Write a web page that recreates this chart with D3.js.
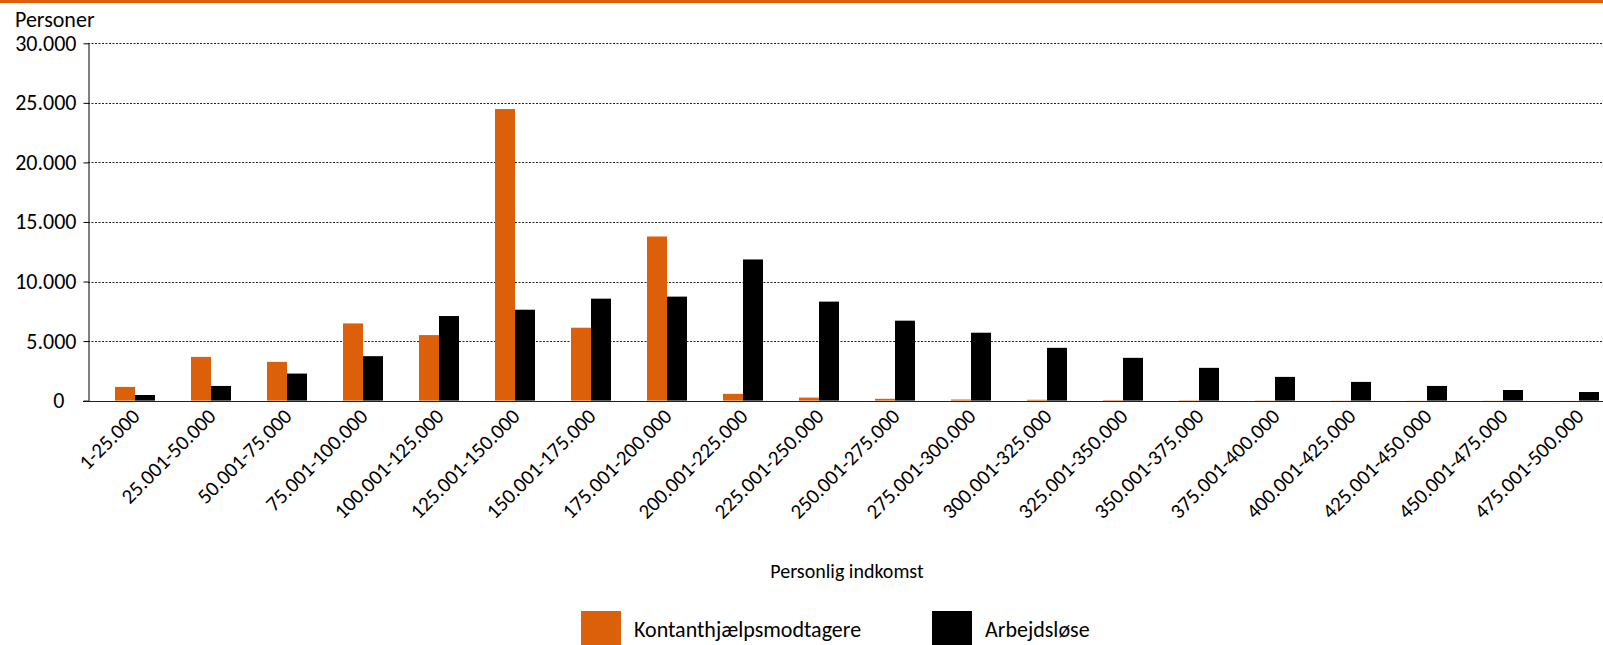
<!DOCTYPE html>
<html>
<head>
<meta charset="utf-8">
<script src="https://cdn.jsdelivr.net/npm/d3@7"></script>
<style>
  html, body { margin: 0; padding: 0; background: #fff; }
  svg { display: block; }
  text { font-family: Carlito, Calibri, Lato, "Noto Sans", sans-serif; fill: #000; }
</style>
</head>
<body>
<svg id="chart" width="1603" height="645"></svg>
<script>
// Income brackets (DKK) on the x axis
const categories = [
  "1-25.000", "25.001-50.000", "50.001-75.000", "75.001-100.000",
  "100.001-125.000", "125.001-150.000", "150.001-175.000", "175.001-200.000",
  "200.001-225.000", "225.001-250.000", "250.001-275.000", "275.001-300.000",
  "300.001-325.000", "325.001-350.000", "350.001-375.000", "375.001-400.000",
  "400.001-425.000", "425.001-450.000", "450.001-475.000", "475.001-500.000"
];

// Number of persons per bracket
const kontanthjaelp = [
  1150, 3670, 3250, 6480, 5500, 24480, 6120, 13780, 570, 250,
  150, 90, 70, 40, 30, 20, 15, 10, 10, 5
];
const arbejdsloese = [
  470, 1230, 2270, 3730, 7100, 7630, 8560, 8730, 11850, 8310,
  6710, 5700, 4430, 3590, 2750, 1990, 1570, 1230, 890, 720
];

const seriesNames = ["Kontanthjælpsmodtagere", "Arbejdsløse"];
const seriesValues = [kontanthjaelp, arbejdsloese];
const colors = ["#dc5f0a", "#000000"];

const yTicks = [0, 5000, 10000, 15000, 20000, 25000, 30000];
const yTitle = "Personer";
const xTitle = "Personlig indkomst";

const W = 1603, H = 645;
const axisX = 88;
const svg = d3.select("#chart");

// Accent rule across the top
svg.append("rect").attr("x", 0).attr("y", 0).attr("width", W).attr("height", 3).attr("fill", "#dc5f0a");

const y = d3.scaleLinear().domain([0, 30000]).range([400.6, 43.3]);

const x = d3.scaleBand()
  .domain(categories)
  .range([97, 1617])
  .paddingInner(36 / 76)
  .paddingOuter(18 / 76);

const xSub = d3.scaleBand()
  .domain(seriesNames)
  .range([0, x.bandwidth()]);

const fmt = v => d3.format(",")(v).replace(/,/g, ".");

// Dotted horizontal gridlines
svg.append("g")
  .selectAll("line")
  .data(yTicks)
  .join("line")
  .attr("x1", axisX).attr("x2", W)
  .attr("y1", d => Math.round(y(d)) + 0.5)
  .attr("y2", d => Math.round(y(d)) + 0.5)
  .attr("stroke", "#222")
  .attr("stroke-width", 1)
  .attr("stroke-dasharray", "2,1.5");

// Bars
const groups = svg.append("g")
  .selectAll("g")
  .data(categories)
  .join("g")
  .attr("transform", d => `translate(${x(d)},0)`);

groups.selectAll("rect")
  .data((c, i) => seriesNames.map((s, k) => ({ s, v: seriesValues[k][i], k })))
  .join("rect")
  .attr("x", d => xSub(d.s))
  .attr("width", xSub.bandwidth())
  .attr("y", d => y(d.v))
  .attr("height", d => y(0) - y(d.v))
  .attr("fill", d => colors[d.k]);

// Baseline
svg.append("line")
  .attr("x1", 83).attr("x2", W)
  .attr("y1", Math.round(y(0)) + 0.5).attr("y2", Math.round(y(0)) + 0.5)
  .attr("stroke", "#222").attr("stroke-width", 1);

// Y axis
const yAxis = svg.append("g").attr("transform", `translate(${axisX + 0.5},0)`)
  .call(d3.axisLeft(y).tickValues(yTicks).tickSize(5).tickSizeOuter(0).tickPadding(7).tickFormat(fmt));
yAxis.select(".domain").attr("stroke", "#000");
yAxis.selectAll(".tick line").attr("stroke", "#000");
yAxis.selectAll(".tick text")
  .attr("font-size", 22)
  .attr("font-family", "Carlito, Calibri, Lato, 'Noto Sans', sans-serif")
  .attr("fill", "#000")
  .attr("dx", d => d === 0 ? -12 : 0);

svg.append("text")
  .attr("x", 15).attr("y", 27)
  .attr("font-size", 22)
  .text(yTitle);

// X tick labels, rotated
const xAxis = svg.append("g").attr("transform", `translate(0,${y(0)})`)
  .call(d3.axisBottom(x).tickSize(0).tickPadding(0));
xAxis.select(".domain").remove();
xAxis.selectAll(".tick text")
  .attr("font-size", 21)
  .attr("font-family", "Carlito, Calibri, Lato, 'Noto Sans', sans-serif")
  .attr("fill", "#000")
  .attr("text-anchor", "end")
  .attr("dy", null)
  .attr("y", 0)
  .attr("transform", "translate(6,17) rotate(-45)");

svg.append("text")
  .attr("x", 847).attr("y", 578)
  .attr("text-anchor", "middle")
  .attr("font-size", 20)
  .text(xTitle);

// Legend
const legend = svg.append("g");
const legendX = [581, 932];
seriesNames.forEach((name, k) => {
  legend.append("rect")
    .attr("x", legendX[k]).attr("y", 611)
    .attr("width", 40).attr("height", 40)
    .attr("fill", colors[k]);
  legend.append("text")
    .attr("x", legendX[k] + 53).attr("y", 637)
    .attr("font-size", 22)
    .text(name);
});
</script>
</body>
</html>
